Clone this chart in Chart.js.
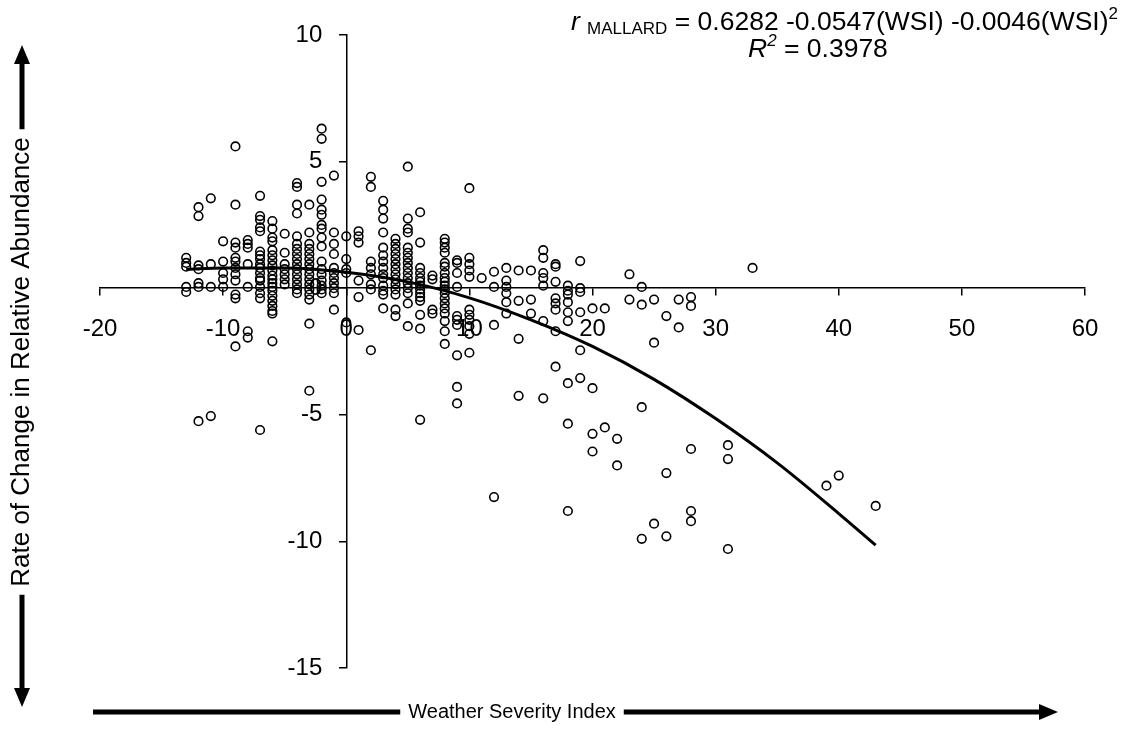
<!DOCTYPE html>
<html>
<head>
<meta charset="utf-8">
<script src="https://cdn.jsdelivr.net/npm/chart.js@4.4.1/dist/chart.umd.min.js"></script>
<style>
    html, body { margin: 0; padding: 0; background: #fff; }
    #wrap { position: relative; width: 1126px; height: 730px; }
    .eq { position: absolute; font-family: "Liberation Sans", Arial, sans-serif; font-size: 26.5px;
        color: #000; white-space: nowrap; line-height: 26px; }
    #eq1 { right: 8px; top: 8px; }
    #eq2 { left: 748px; top: 35px; }
    .small { font-size: 17px; vertical-align: -4px; }
    sup { font-size: 17px; vertical-align: 11px; line-height: 0; }
</style>
</head>
<body>
<div id="wrap">
    <canvas id="scatterChart" width="1126" height="730"></canvas>
    <div class="eq" id="eq1"><i>r</i> <span class="small">MALLARD</span> = 0.6282 -0.0547(WSI) -0.0046(WSI)<sup>2</sup></div>
    <div class="eq" id="eq2"><i>R<sup>2</sup></i> = 0.3978</div>
</div>
<script>
// weather severity index columns and the rate values observed at each one
const wsiCols = [-13, -12, -11, -10, -9, -8, -7, -6, -5, -4, -3, -2, -1, 0, 1, 2, 3, 4, 5, 6, 7, 8, 9, 10,
    11, 12, 13, 14, 15, 16, 17, 18, 19, 20, 21, 22, 23, 24, 25, 26, 27, 28, 31, 33, 39, 40, 43];
const rateCols = [
    [1.2, 1.0, 0.85, 0.05, -0.15],
    [3.2, 2.85, 0.9, 0.75, 0.2, 0.05, -5.25],
    [3.55, 0.95, 0.05, -5.05],
    [1.85, 1.05, 0.6, 0.35, 0.05],
    [5.6, 3.3, 1.8, 1.6, 1.2, 1.05, 0.8, 0.55, 0.3, -0.25, -0.4, -2.3],
    [1.9, 1.75, 1.6, 0.95, 0.05, -1.7, -1.95],
    [3.65, 2.85, 2.7, 2.4, 2.25, 1.45, 1.3, 1.15, 0.95, 0.8, 0.6, 0.4, 0.3, 0.05, -0.2, -0.4, -5.6],
    [2.65, 2.35, 2.0, 1.85, 1.5, 1.3, 1.1, 0.9, 0.7, 0.5, 0.35, 0.2, 0.05, -0.1, -0.3, -0.5, -0.7, -0.9, -1.0, -2.1],
    [2.15, 1.4, 0.95, 0.75, 0.55, 0.35, 0.15],
    [4.15, 4.0, 3.3, 2.95, 2.05, 1.75, 1.55, 1.35, 1.15, 0.95, 0.75, 0.55, 0.35, 0.15, -0.05, -0.2],
    [3.3, 2.2, 1.75, 1.55, 1.35, 1.15, 0.95, 0.75, 0.55, 0.35, 0.15, -0.05, -0.25, -0.45, -1.4, -4.05],
    [6.3, 5.9, 4.2, 3.5, 3.1, 2.9, 2.5, 2.35, 2.0, 1.65, 1.05, 0.75, 0.55, 0.3, 0.1, -0.05, -0.2],
    [4.45, 2.2, 1.75, 1.35, 0.8, 0.6, 0.4, 0.2, 0.0, -0.2, -0.85],
    [2.05, 1.15, 0.75, 0.6, -1.35],
    [2.25, 2.05, 1.8, 0.3, -0.35, -1.65],
    [4.4, 4.0, 1.05, 0.8, 0.55, 0.15, -0.05, -2.45],
    [3.45, 3.1, 2.75, 2.2, 1.6, 1.3, 1.05, 0.8, 0.55, 0.4, 0.1, -0.1, -0.25, -0.8],
    [1.95, 1.75, 1.55, 1.35, 1.15, 0.95, 0.75, 0.55, 0.35, 0.15, -0.05, -0.25, -0.85, -1.1],
    [4.8, 2.75, 2.35, 2.2, 1.6, 1.4, 1.2, 1.0, 0.8, 0.6, 0.4, 0.2, 0.0, -0.2, -0.6, -1.5],
    [3.0, 1.8, 0.8, 0.6, 0.4, 0.25, 0.1, -0.05, -0.2, -0.35, -0.5, -1.05, -1.6, -5.2],
    [0.5, 0.35, -0.85, -1.0],
    [1.95, 1.8, 1.6, 1.4, 1.0, 0.85, 0.6, 0.4, 0.25, 0.1, -0.05, -0.2, -0.4, -0.6, -0.8, -1.0, -1.3, -1.7, -2.2],
    [1.1, 1.0, 0.6, 0.05, -1.1, -1.25, -1.45, -2.65, -3.9, -4.55],
    [3.95, 1.2, 0.95, 0.7, 0.45, -0.85, -1.05, -1.25, -1.5, -1.8, -2.55],
    [0.4],
    [0.65, 0.05, -1.45, -8.25],
    [0.8, 0.3, 0.05, -0.2, -0.55, -1.0],
    [0.7, -0.5, -2.0, -4.25],
    [0.7, -0.45, -1.0],
    [1.5, 1.2, 0.6, 0.4, 0.1, -1.3, -4.35],
    [0.95, 0.85, 0.25, -0.4, -0.6, -0.85, -1.7, -3.1],
    [0.1, -0.1, -0.25, -0.55, -0.95, -1.3, -3.75, -5.35, -8.8],
    [1.07, 0.0, -0.15, -0.95, -2.45, -3.55],
    [-0.8, -3.95, -5.75, -6.45],
    [-0.8, -5.5],
    [-5.95, -7.0],
    [0.55, -0.45],
    [0.05, -0.65, -4.7, -9.9],
    [-0.45, -2.15, -9.3],
    [-1.1, -7.3, -9.8],
    [-0.45, -1.55],
    [-0.35, -0.7, -6.35, -8.8, -9.2],
    [-6.2, -6.75, -10.3],
    [0.8],
    [-7.8],
    [-7.4],
    [-8.6]
];

// fitted curve
const fitWsi = [-13, -10, -5, 0, 5, 10, 15, 20, 25, 30, 35, 40, 43];
const fitRate = [0.75, 0.8, 0.8, 0.63, 0.25, -0.38, -1.25, -2.3, -3.6, -5.15, -6.9, -8.9, -10.15];

const xTicks = [-20, -10, 0, 10, 20, 30, 40, 50, 60];
const yTicks = [-15, -10, -5, 0, 5, 10];

const xTitle = 'Weather Severity Index';
const yTitle = 'Rate of Change in Relative Abundance';

const FONT = '"Liberation Sans", Arial, sans-serif';

var points = [];
wsiCols.forEach((wsi, i) => {
    rateCols[i].forEach(r => points.push({ x: wsi, y: r }));
});
var fitLine = fitWsi.map((w, i) => ({ x: w, y: fitRate[i] }));

function arrowHead(ctx, tipX, tipY, dir) {
    // dir: 'up', 'down', 'right'
    ctx.beginPath();
    if (dir === 'up') {
        ctx.moveTo(tipX, tipY); ctx.lineTo(tipX - 8, tipY + 19); ctx.lineTo(tipX + 8, tipY + 19);
    } else if (dir === 'down') {
        ctx.moveTo(tipX, tipY); ctx.lineTo(tipX - 8, tipY - 19); ctx.lineTo(tipX + 8, tipY - 19);
    } else {
        ctx.moveTo(tipX, tipY); ctx.lineTo(tipX - 19, tipY - 8); ctx.lineTo(tipX - 19, tipY + 8);
    }
    ctx.closePath();
    ctx.fill();
}

// axis titles with the long arrows, drawn outside the plot
const axisArrows = {
    id: 'axisArrows',
    afterDraw(chart) {
        const ctx = chart.ctx;
        ctx.save();
        ctx.fillStyle = '#000';
        ctx.strokeStyle = '#000';
        ctx.lineWidth = 5;
        ctx.textBaseline = 'middle';
        ctx.textAlign = 'center';

        // bottom title
        ctx.font = '20px ' + FONT;
        var bx = 512, by = 712;
        var tw = ctx.measureText(xTitle).width;
        ctx.fillText(xTitle, bx, by);
        ctx.beginPath();
        ctx.moveTo(93, by); ctx.lineTo(bx - tw / 2 - 8, by);
        ctx.moveTo(bx + tw / 2 + 8, by); ctx.lineTo(1042, by);
        ctx.stroke();
        arrowHead(ctx, 1058, by, 'right');

        // left title, rotated
        ctx.font = '26px ' + FONT;
        var lx = 22, ly = 362;
        var th = ctx.measureText(yTitle).width;
        ctx.save();
        ctx.translate(lx, ly);
        ctx.rotate(-Math.PI / 2);
        ctx.fillText(yTitle, 0, 0);
        ctx.restore();
        ctx.beginPath();
        ctx.moveTo(lx, 62); ctx.lineTo(lx, ly - th / 2 - 8);
        ctx.moveTo(lx, ly + th / 2 + 8); ctx.lineTo(lx, 690);
        ctx.stroke();
        arrowHead(ctx, lx, 45, 'up');
        arrowHead(ctx, lx, 707, 'down');
        ctx.restore();
    }
};

var ctx = document.getElementById('scatterChart');
new Chart(ctx, {
    type: 'scatter',
    data: {
        datasets: [{
            label: 'fit',
            data: fitLine,
            showLine: true,
            borderColor: '#000',
            borderWidth: 3,
            pointRadius: 0,
            cubicInterpolationMode: 'monotone'
        }, {
            label: 'observed',
            data: points,
            pointRadius: 4.3,
            borderWidth: 1.6,
            borderColor: '#000',
            backgroundColor: 'rgba(0,0,0,0)'
        }]
    },
    options: {
        responsive: false,
        animation: false,
        layout: {
            padding: { left: 100, right: 41, top: 35, bottom: 62 }
        },
        plugins: {
            legend: { display: false },
            tooltip: { enabled: false }
        },
        scales: {
            x: {
                type: 'linear',
                min: -20,
                max: 60,
                position: { y: 0 },
                afterBuildTicks: s => { s.ticks = xTicks.map(v => ({ value: v })); },
                ticks: { color: '#000', font: { family: FONT, size: 24 }, padding: 20 },
                grid: { drawOnChartArea: false, color: '#000', lineWidth: 1.5, tickLength: 7 },
                border: { color: '#000', width: 1.5 }
            },
            y: {
                type: 'linear',
                min: -15,
                max: 10,
                position: { x: 0 },
                afterBuildTicks: s => { s.ticks = yTicks.map(v => ({ value: v })); },
                // labels sit right-aligned on the axis when it is placed by value, so pad with spaces
                ticks: { color: '#000', font: { family: FONT, size: 24 }, callback: v => v + '\u2002\u2002' },
                grid: { drawOnChartArea: false, color: '#000', lineWidth: 1.5, tickLength: 7 },
                border: { color: '#000', width: 1.5 }
            }
        }
    },
    plugins: [axisArrows]
});
</script>
</body>
</html>
